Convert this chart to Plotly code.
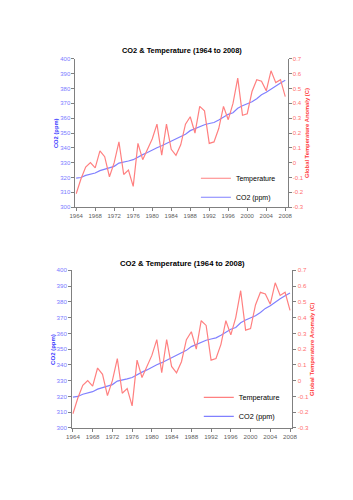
import plotly.graph_objects as go

years = list(range(1964, 2009))
co2_ppm = [319.6, 320.0, 321.4, 322.2, 323.0, 324.6, 325.7, 326.3, 327.5, 329.7,
           330.2, 331.1, 332.0, 333.8, 335.4, 336.8, 338.7, 340.1, 341.4, 343.0,
           344.6, 346.0, 347.4, 349.2, 351.6, 353.1, 354.4, 355.6, 356.4, 357.1,
           358.8, 360.8, 362.6, 363.7, 366.7, 368.4, 369.6, 371.1, 373.2, 375.8,
           377.5, 379.8, 381.9, 383.8, 385.6]
temp_anomaly = [-0.21, -0.11, -0.03, 0.00, -0.035, 0.08, 0.04, -0.095, 0.00, 0.14,
                -0.08, -0.05, -0.16, 0.13, 0.02, 0.085, 0.16, 0.26, 0.05, 0.26,
                0.09, 0.05, 0.12, 0.26, 0.31, 0.20, 0.38, 0.35, 0.13, 0.14,
                0.23, 0.38, 0.29, 0.40, 0.57, 0.32, 0.33, 0.48, 0.56, 0.55,
                0.485, 0.62, 0.54, 0.56, 0.445]
x_ticks = list(range(1964, 2009, 4))
co2_ticks = list(range(300, 401, 10))
temp_ticks = [round(-0.3 + 0.1 * i, 1) for i in range(11)]
temp_tick_text = ["0" if t == 0 else f"{t:g}" for t in temp_ticks]

FONT = "Arial, Liberation Sans, sans-serif"
RED_LINE = "#ff8080"
BLUE_LINE = "#8080ff"

W, H = 353, 500
panels = [
    dict(l=71.7, r=290.7, t=55.7, b=206.0, title_y=47, fs=1.0),
    dict(l=68.3, r=295.7, t=270.0, b=430.0, title_y=263, fs=1.04),
]

fig = go.Figure()
annotations = []
for i, p in enumerate(panels):
    xa = "x" if i == 0 else "x2"
    yl = "y" if i == 0 else "y3"
    yr = "y2" if i == 0 else "y4"
    leg = "legend" if i == 0 else "legend2"
    fig.add_trace(go.Scatter(x=years, y=temp_anomaly, name="Temperature", mode="lines",
                             line=dict(color=RED_LINE, width=1.2), xaxis=xa, yaxis=yr,
                             legend=leg))
    fig.add_trace(go.Scatter(x=years, y=co2_ppm, name="CO2 (ppm)", mode="lines",
                             line=dict(color=BLUE_LINE, width=1.2), xaxis=xa, yaxis=yl,
                             legend=leg))
    xd = [p["l"] / W, p["r"] / W]
    yd = [1 - p["b"] / H, 1 - p["t"] / H]
    s = p["fs"]
    xkey = "xaxis" if i == 0 else "xaxis2"
    ylkey = "yaxis" if i == 0 else "yaxis3"
    yrkey = "yaxis2" if i == 0 else "yaxis4"
    fig.update_layout(**{
        xkey: dict(domain=xd, range=[1963.85, 2008.5], anchor=yl, tickvals=x_ticks,
                   showgrid=False, zeroline=False, showline=True, linecolor="#808080",
                   linewidth=1, ticks="outside", ticklen=3, tickcolor="#808080",
                   tickfont=dict(family=FONT, size=6 * s, color="#606060")),
        ylkey: dict(domain=yd, range=[300, 400], anchor=xa, tickvals=co2_ticks,
                    showgrid=False, zeroline=False, showline=True, linecolor="#808080",
                    linewidth=1, ticks="outside", ticklen=3, tickcolor="#808080",
                    tickfont=dict(family=FONT, size=6 * s, color="#7a7aff")),
        yrkey: dict(range=[-0.3, 0.7], overlaying=yl, side="right", anchor=xa,
                    tickvals=temp_ticks, ticktext=temp_tick_text,
                    showgrid=False, zeroline=False, showline=True, linecolor="#808080",
                    linewidth=1, ticks="outside", ticklen=3, tickcolor="#808080",
                    tickfont=dict(family=FONT, size=6 * s, color="#ff6f6f")),
        leg: dict(x=(196 if i == 0 else 199) / W, xanchor="left",
                  y=1 - (p["b"] - 44 * s) / H, yanchor="top",
                  bgcolor="rgba(0,0,0,0)", font=dict(family=FONT, size=7 * s, color="#000000"),
                  tracegroupgap=0),
    })
    cx = (p["l"] + p["r"]) / 2 / W
    annotations.append(dict(text="<b>CO2 & Temperature (1964 to 2008)</b>", x=cx, y=1 - p["title_y"] / H,
                            xref="paper", yref="paper", showarrow=False, xanchor="center", yanchor="middle",
                            font=dict(family=FONT, size=7.4 * s, color="#000000")))
    annotations.append(dict(text="<b>CO2 (ppm)</b>", x=(p["l"] - 20) / W, y=1 - (p["t"] + p["b"]) / 2 / H,
                            xref="paper", yref="paper", showarrow=False, textangle=-90,
                            xanchor="center", yanchor="middle",
                            font=dict(family=FONT, size=5.8 * s, color="#3a3aff")))
    annotations.append(dict(text="<b>Global Temperature Anomaly (C)</b>", x=(p["r"] + 20) / W,
                            y=1 - (p["t"] + p["b"]) / 2 / H,
                            xref="paper", yref="paper", showarrow=False, textangle=-90,
                            xanchor="center", yanchor="middle",
                            font=dict(family=FONT, size=5.8 * s, color="#ff3a3a")))

fig.update_layout(width=W, height=H, margin=dict(l=0, r=0, t=0, b=0),
                  paper_bgcolor="white", plot_bgcolor="white",
                  annotations=annotations, showlegend=True)
fig.write_html("out.html")
